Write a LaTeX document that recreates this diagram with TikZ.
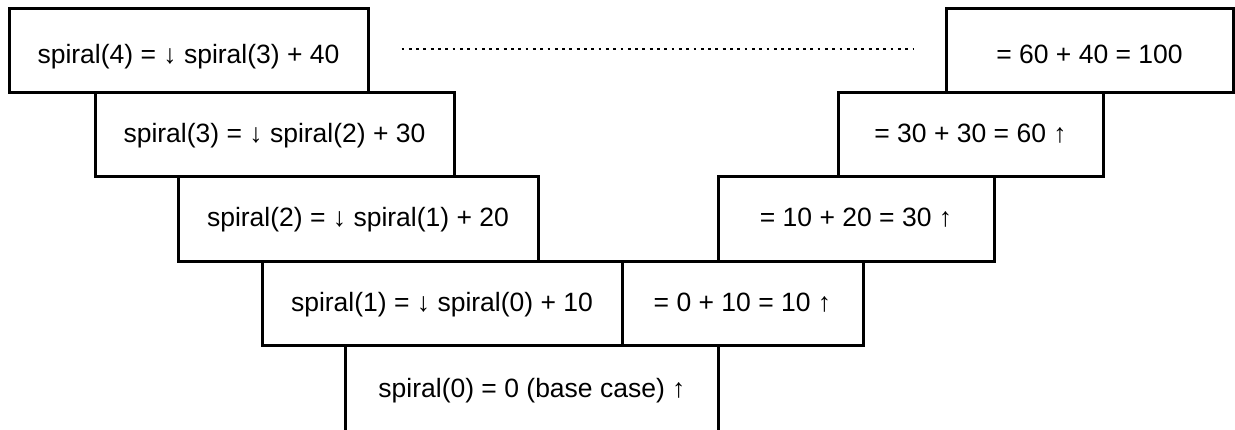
\documentclass[tikz,border=0pt]{standalone}
\usepackage{fontspec}
\setmainfont{Liberation Sans}
\begin{document}
\begin{tikzpicture}[x=1pt,y=-1pt,
  box/.style={draw, line width=3pt, rectangle, inner sep=0pt, minimum height=84pt,
    font=\fontsize{26.5}{30}\selectfont, text height=15pt, text depth=0pt},
  openbox/.style={draw=none, rectangle, inner sep=0pt, minimum height=84pt,
    font=\fontsize{26.5}{30}\selectfont, text height=18.6pt, text depth=0pt},
  toprow/.style={text height=25pt},
  edge/.style={line width=3pt},
  dotline/.style={line width=2.8pt, dash pattern=on 2.8pt off 4.5pt}]
\fill[white] (0,0) rectangle (1235,430);
\useasboundingbox (0,0) rectangle (1235,430);
\clip (0,0) rectangle (1235,430);
% row 1
\node[box, toprow, minimum width=359pt] (A4) at (188.5,51) {spiral(4) = ↓ spiral(3) + 40};
\node[box, toprow, minimum width=287pt] (R4) at (1089.5,51) {= 60 + 40 = 100};
% row 2
\node[box, minimum width=359pt] (A3) at (274.5,135) {spiral(3) = ↓ spiral(2) + 30};
\node[box, minimum width=265pt] (R3) at (970.5,135) {= 30 + 30 = 60 ↑};
% row 3
\node[box, minimum width=360pt, minimum height=85pt] (A2) at (358,219.5) {spiral(2) = ↓ spiral(1) + 20};
\node[box, minimum width=276pt, minimum height=85pt] (R2) at (856,219.5) {= 10 + 20 = 30 ↑};
% row 4
\node[box, minimum width=360pt] (A1) at (442,304) {spiral(1) = ↓ spiral(0) + 10};
\node[box, minimum width=241pt] (R1) at (742.5,304) {= 0 + 10 = 10 ↑};
% row 5 (open at the bottom)
\node[openbox, minimum width=372pt] (B0) at (532,388) {spiral(0) = 0 (base case) ↑};
\draw[edge] ([yshift=-10pt]B0.south west) -- (B0.north west) -- (B0.north east) -- ([yshift=-10pt]B0.south east);
% dotted link
\draw[dotline, shorten <=32pt, shorten >=31pt] ([yshift=2pt]A4.east) -- ([yshift=2pt]R4.west);
\end{tikzpicture}
\end{document}
